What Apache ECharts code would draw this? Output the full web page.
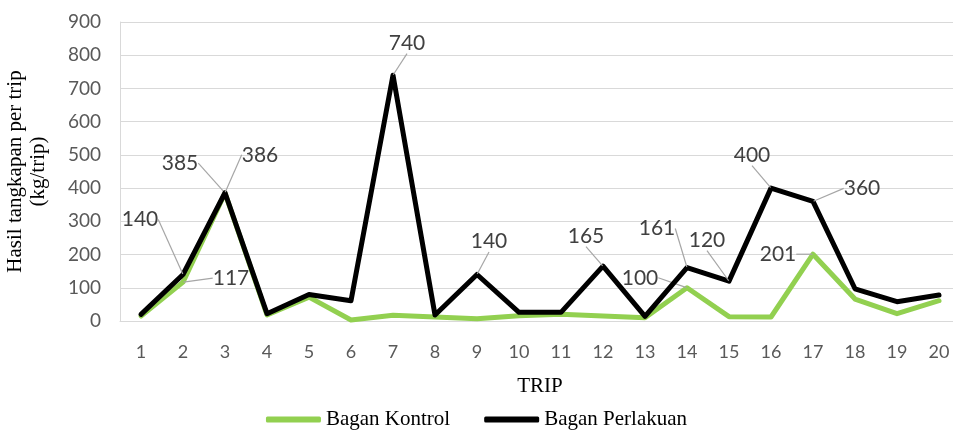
<!DOCTYPE html>
<html>
<head>
<meta charset="utf-8">
<script src="https://cdn.jsdelivr.net/npm/echarts@6/dist/echarts.min.js"></script>
<style>html,body{margin:0;padding:0;background:#fff}#c{width:953px;height:430px}</style>
</head>
<body>
<div id="c"></div>
<script>
var categories = ['1','2','3','4','5','6','7','8','9','10','11','12','13','14','15','16','17','18','19','20'];
var kontrol = [15, 117, 385, 18, 72, 3, 17, 12, 7, 16, 20, 15, 10, 100, 13, 12, 201, 66, 22, 61];
var perlakuan = [20, 140, 386, 22, 80, 61, 740, 18, 140, 26, 26, 165, 14, 161, 120, 400, 360, 97, 58, 78];
var yTicks = [0, 100, 200, 300, 400, 500, 600, 700, 800, 900];
var kontrolLabelIdx = [1, 2, 13, 16];
var perlakuanLabelIdx = [1, 2, 6, 8, 11, 13, 14, 15, 16];

// label offsets (label centre relative to point), per series
var kontrolOffsets = {1: [48, -4], 2: [-45, -30], 13: [-47, -10], 16: [-35, 0]};
var perlakuanOffsets = {1: [-43, -55], 2: [35, -38], 6: [14, -32], 8: [12, -33], 11: [-17, -30], 13: [-30, -39], 14: [-22, -41], 15: [-19, -33], 16: [49, -13]};

function buildData(vals, idxs) {
  return vals.map(function (v, i) {
    return { value: v, label: { show: idxs.indexOf(i) >= 0 } };
  });
}

var labelStyle = {
  show: false, position: 'inside', color: '#404040',
  fontFamily: 'Lato', fontSize: 21
};

var chart = echarts.init(document.getElementById('c'), null, {renderer: 'canvas'});
chart.setOption({
  animation: false,
  backgroundColor: '#ffffff',
  grid: { left: 120, top: 22, width: 840, height: 299, containLabel: false, outerBoundsMode: 'none' },
  legend: {
    top: 404, left: 'center',
    itemWidth: 55, itemHeight: 6, itemGap: 34, icon: 'roundRect',
    textStyle: { fontFamily: 'Liberation Serif', fontSize: 21, color: '#000' },
    data: ['Bagan Kontrol', 'Bagan Perlakuan']
  },
  xAxis: {
    type: 'category', data: categories, boundaryGap: true,
    name: 'TRIP', nameLocation: 'middle', nameGap: 55,
    nameTextStyle: { fontFamily: 'Liberation Serif', fontSize: 21, color: '#000' },
    axisLine: { lineStyle: { color: '#d9d9d9', width: 1 } },
    axisTick: { show: false },
    axisLabel: { fontFamily: 'Lato', fontSize: 18, color: '#595959', margin: 22 }
  },
  yAxis: {
    type: 'value', min: yTicks[0], max: yTicks[yTicks.length - 1], interval: 100,
    name: 'Hasil tangkapan per trip\n(kg/trip)', nameLocation: 'middle', nameGap: 70,
    nameTextStyle: { fontFamily: 'Liberation Serif', fontSize: 21, color: '#000', lineHeight: 23 },
    axisLine: { show: true, lineStyle: { color: '#d9d9d9', width: 1 } },
    axisTick: { show: false },
    splitLine: { lineStyle: { color: '#d9d9d9', width: 1 } },
    axisLabel: { fontFamily: 'Lato', fontSize: 19, color: '#595959', margin: 19 }
  },
  series: [
    {
      name: 'Bagan Kontrol', type: 'line', data: buildData(kontrol, kontrolLabelIdx),
      symbol: 'circle', symbolSize: 1, showSymbol: true,
      lineStyle: { color: '#92d050', width: 5, cap: 'round', join: 'round' },
      itemStyle: { color: '#92d050' },
      label: labelStyle,
      labelLine: { show: true, lineStyle: { color: '#a6a6a6', width: 1.2 } },
      labelLayout: function (p) {
        var o = kontrolOffsets[p.dataIndex] || [0, 0];
        return { dx: o[0], dy: o[1] };
      },
      z: 2
    },
    {
      name: 'Bagan Perlakuan', type: 'line', data: buildData(perlakuan, perlakuanLabelIdx),
      symbol: 'circle', symbolSize: 1, showSymbol: true,
      lineStyle: { color: '#000000', width: 5, cap: 'round', join: 'round' },
      itemStyle: { color: '#000000' },
      label: labelStyle,
      labelLine: { show: true, lineStyle: { color: '#a6a6a6', width: 1.2 } },
      labelLayout: function (p) {
        var o = perlakuanOffsets[p.dataIndex] || [0, 0];
        return { dx: o[0], dy: o[1] };
      },
      z: 3
    }
  ]
});
</script>
</body>
</html>
